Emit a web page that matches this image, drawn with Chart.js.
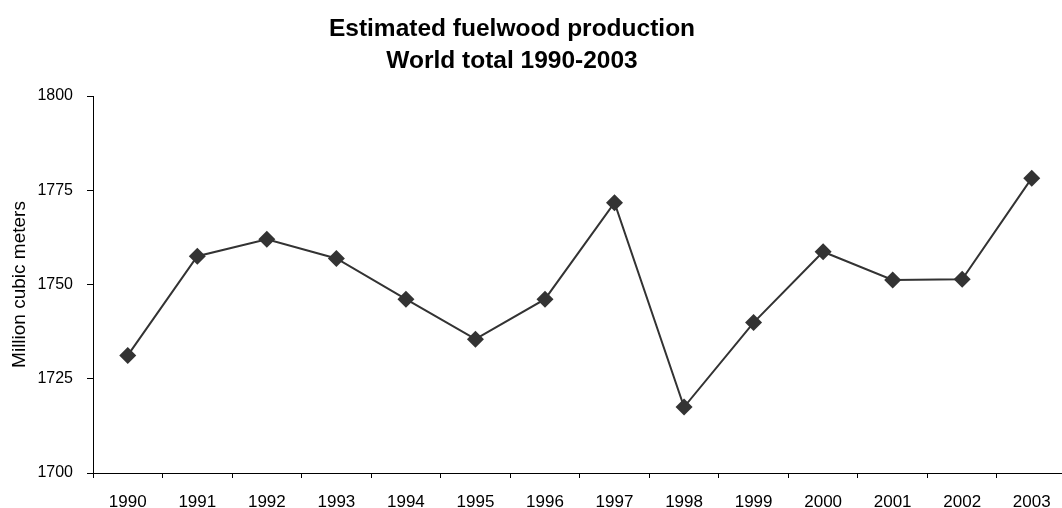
<!DOCTYPE html>
<html>
<head>
<meta charset="utf-8">
<script src="https://cdn.jsdelivr.net/npm/chart.js@4/dist/chart.umd.min.js"></script>
<style>
  html, body { margin: 0; padding: 0; background: #fff; overflow: hidden; }
  #wrap { width: 1075px; height: 508px; position: relative; }
</style>
</head>
<body>
<div id="wrap"><canvas id="myChart"></canvas></div>
<script>
const years = ['1990', '1991', '1992', '1993', '1994', '1995', '1996',
               '1997', '1998', '1999', '2000', '2001', '2002', '2003'];
const production = [1731.2, 1757.5, 1762.0, 1756.9, 1746.1, 1735.5, 1746.1,
                    1771.7, 1717.5, 1739.9, 1758.7, 1751.2, 1751.4, 1778.2];
const titleLines = ['Estimated fuelwood production', 'World total 1990-2003'];

// title is centred at x=512 in the original, not over the canvas, so draw it by hand
const titlePlugin = {
    id: 'twoLineTitle',
    afterDraw(chart) {
        const ctx = chart.ctx;
        ctx.save();
        ctx.fillStyle = '#000';
        ctx.font = 'bold 24.5px "Liberation Sans", Arial, sans-serif';
        ctx.textAlign = 'center';
        ctx.textBaseline = 'alphabetic';
        titleLines.forEach((line, i) => {
            ctx.fillText(line, 512, 36 + i * 32);
        });
        ctx.restore();
    }
};

const chartContext = document.getElementById('myChart').getContext('2d');
const myChart = new Chart(chartContext, {
    type: 'line',
    data: {
        labels: years,
        datasets: [{
            data: production,
            borderColor: '#333333',
            backgroundColor: '#333333',
            borderWidth: 2,
            pointStyle: 'rectRot',
            pointRadius: 8.5,
            pointBorderWidth: 0,
            pointHoverRadius: 8.5,
            tension: 0
        }]
    },
    options: {
        responsive: true,
        maintainAspectRatio: false,
        animation: false,
        layout: { padding: { top: 96, right: 2, left: 0, bottom: 0 } },
        plugins: {
            legend: { display: false },
            title: { display: false },
            tooltip: { enabled: false }
        },
        scales: {
            x: {
                offset: true,
                grid: {
                    offset: true,
                    drawOnChartArea: false,
                    color: '#000',
                    tickLength: 5
                },
                border: { color: '#000', width: 1 },
                ticks: {
                    color: '#000',
                    font: { family: '"Liberation Sans", Arial, sans-serif', size: 17 },
                    padding: 14,
                    maxRotation: 0,
                    autoSkip: false
                },
                afterFit(scale) { scale.height = 35; }
            },
            y: {
                min: 1700,
                max: 1800,
                ticks: {
                    stepSize: 25,
                    color: '#000',
                    font: { family: '"Liberation Sans", Arial, sans-serif', size: 16 },
                    padding: 14,
                    callback: (v) => String(v)
                },
                grid: {
                    drawOnChartArea: false,
                    color: '#000',
                    tickLength: 6
                },
                border: { color: '#000', width: 1 },
                title: {
                    display: true,
                    text: 'Million cubic meters',
                    color: '#000',
                    font: { family: '"Liberation Sans", Arial, sans-serif', size: 19 },
                    padding: { top: 8, bottom: 0 }
                },
                afterFit(scale) { scale.width = 93; }
            }
        }
    },
    plugins: [titlePlugin]
});
</script>
</body>
</html>
